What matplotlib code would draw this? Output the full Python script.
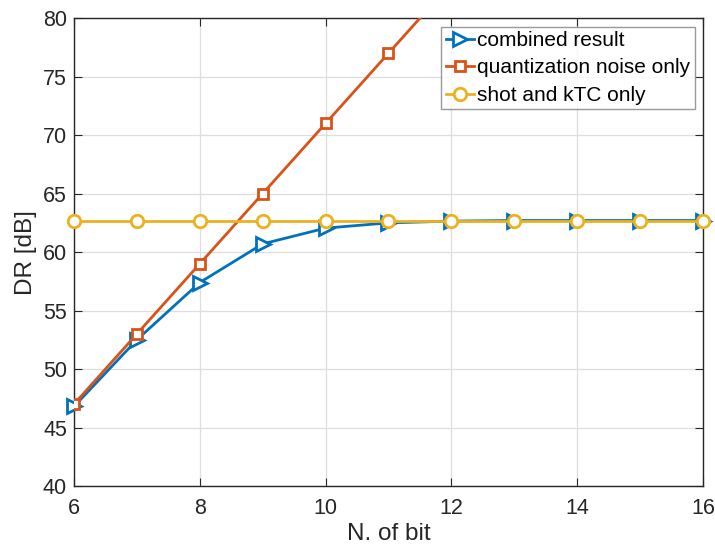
import matplotlib
matplotlib.use("Agg")
import matplotlib.pyplot as plt

# N. of bit
bits = [6, 7, 8, 9, 10, 11, 12, 13, 14, 15, 16]

# DR [dB]
combined = [46.8, 52.5, 57.4, 60.7, 62.05, 62.5, 62.65, 62.7, 62.7, 62.7, 62.7]
quant_bits = [6, 7, 8, 9, 10, 11, 12]
quant_only = [47.0, 53.0, 59.0, 65.0, 71.0, 77.0, 83.0]
shot_ktc = [62.7] * len(bits)

labels = ["combined result", "quantization noise only", "shot and kTC only"]
colors = ["#0072BD", "#D95319", "#EDB120"]

plt.rcParams["font.family"] = ["Liberation Sans", "DejaVu Sans"]

fig = plt.figure(figsize=(7.15, 5.52), dpi=100)
ax = fig.add_axes([0.1035, 0.1196, 0.8795, 0.8474])

ax.plot(bits, combined, color=colors[0], lw=2, marker=">", ms=10,
        mfc="white", mec=colors[0], mew=2, label=labels[0], clip_on=False, zorder=3)
ax.plot(quant_bits, quant_only, color=colors[1], lw=2, marker="s", ms=7.5,
        mfc="white", mec=colors[1], mew=2, label=labels[1], zorder=3)
ax.plot(bits, shot_ktc, color=colors[2], lw=2, marker="o", ms=9,
        mfc="white", mec=colors[2], mew=2, label=labels[2], clip_on=False, zorder=3)

ax.set_xlim(6, 16)
ax.set_ylim(40, 80)
ax.set_xticks(range(6, 17, 2))
ax.set_yticks(range(40, 81, 5))
ax.grid(True, color="#dedede", lw=0.9)
ax.set_axisbelow(True)
ax.tick_params(direction="in", top=True, right=True, length=6,
               labelsize=15.5, colors="#262626")
ax.tick_params(axis="x", pad=8.5)
ax.tick_params(axis="y", pad=5)
for s in ax.spines.values():
    s.set_color("#262626")
    s.set_linewidth(1)

ax.set_xlabel("N. of bit", fontsize=17.5, color="#262626", labelpad=3)
ax.set_ylabel("DR [dB]", fontsize=17.5, color="#262626", labelpad=4)

leg = ax.legend(loc="upper right", fontsize=15, frameon=True, fancybox=False,
                borderpad=0.22, handlelength=1.35, handletextpad=0.15,
                labelspacing=0.4, borderaxespad=0.4)
leg.get_frame().set_edgecolor("#808080")
leg.get_frame().set_linewidth(1)

fig.savefig("out.png", dpi=100)
